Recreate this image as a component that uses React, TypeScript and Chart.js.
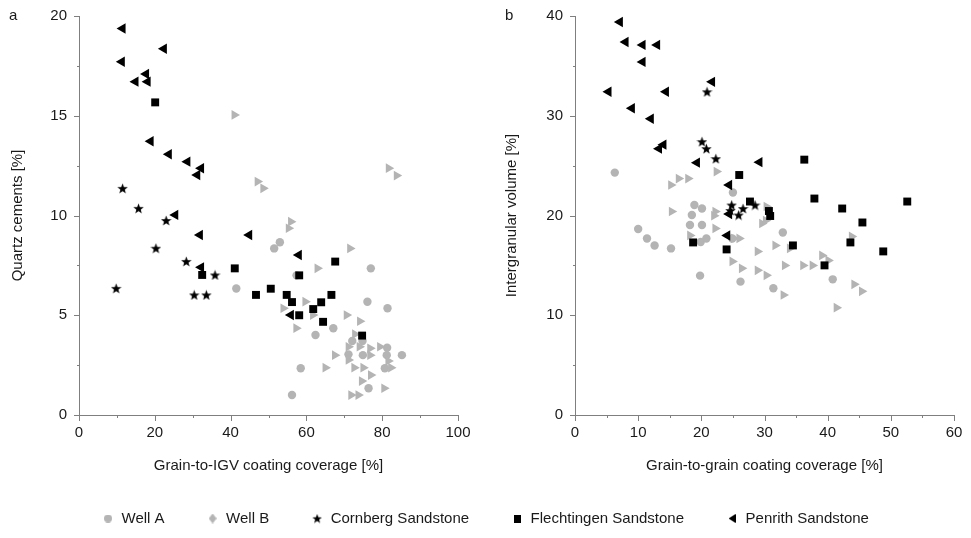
import React, { useEffect, useRef } from 'react';
import { Chart, registerables } from 'chart.js';

Chart.register(...registerables);

const FONT_FAMILY = '"Liberation Sans", Arial, sans-serif';
const FONT_SIZE = 15;
const GRAY = '#b4b4b4';
const BLACK = '#000000';
const AXIS = '#7f7f7f';
const TEXT = '#1a1a1a';

const LABELS = ['Well A', 'Well B', 'Cornberg Sandstone', 'Flechtingen Sandstone', 'Penrith Sandstone'];

// ---------- Panel a : Grain-to-IGV coating coverage [%] vs Quartz cements [%]
const aWellA: [number, number][] = [
  [41.5, 6.34], [53.0, 8.66], [51.5, 8.35], [77.0, 7.35], [57.4, 7.0], [76.1, 5.68], [81.4, 5.35],
  [67.1, 4.35], [62.4, 4.01], [72.1, 3.71], [74.8, 3.71], [81.3, 3.37], [71.1, 3.04], [74.9, 3.0],
  [81.2, 3.0], [85.2, 3.0], [80.7, 2.34], [58.5, 2.34], [76.4, 1.34], [56.2, 1.0],
];
const aWellB: [number, number][] = [
  [41.0, 15.04], [47.1, 11.7], [48.6, 11.36], [81.7, 12.37], [83.8, 12.0], [55.9, 9.69], [55.3, 9.36],
  [71.5, 8.35], [62.9, 7.35], [59.7, 5.68], [53.9, 5.35], [61.7, 5.01], [70.6, 5.01], [74.1, 4.7],
  [57.3, 4.35], [72.8, 4.05], [71.1, 3.42], [74.0, 3.42], [76.8, 3.34], [79.4, 3.42], [67.5, 3.0],
  [76.8, 3.0], [71.1, 2.76], [81.6, 2.71], [65.0, 2.37], [72.6, 2.37], [75.0, 2.37], [82.3, 2.37],
  [77.0, 2.0], [74.6, 1.7], [80.5, 1.34], [71.8, 1.0], [73.7, 1.0],
];
const aCornberg: [number, number][] = [
  [11.5, 11.36], [15.7, 10.36], [23.0, 9.75], [20.3, 8.36], [28.3, 7.7], [35.9, 7.02], [9.8, 6.35],
  [30.4, 6.02], [33.6, 6.02],
];
const aFlechtingen: [number, number][] = [
  [20.1, 15.67], [67.6, 7.69], [41.1, 7.35], [32.5, 7.02], [58.1, 7.0], [50.6, 6.33], [46.7, 6.02],
  [54.8, 6.02], [66.6, 6.02], [56.2, 5.66], [63.9, 5.65], [61.8, 5.31], [58.1, 5.0], [64.4, 4.67],
  [74.7, 3.98],
];
const aPenrith: [number, number][] = [
  [11.5, 19.37], [22.4, 18.36], [11.3, 17.71], [17.7, 17.09], [14.9, 16.71], [18.1, 16.71], [18.9, 13.72],
  [23.7, 13.07], [28.6, 12.7], [32.2, 12.37], [31.2, 12.03], [25.4, 10.03], [31.9, 9.02], [44.9, 9.02],
  [32.2, 7.4], [58.0, 8.02], [55.9, 5.01],
];

// ---------- Panel b : Grain-to-grain coating coverage [%] vs Intergranular volume [%]
const bWellA: [number, number][] = [
  [6.3, 24.3], [25.0, 22.3], [18.9, 21.05], [20.1, 20.7], [18.5, 20.05], [10.0, 18.65], [18.2, 19.05],
  [20.1, 19.05], [11.4, 17.7], [12.6, 17.0], [15.2, 16.7], [19.9, 17.35], [20.8, 17.7], [24.9, 17.7],
  [19.8, 13.97], [26.2, 13.37], [31.4, 12.7], [32.9, 18.3], [40.8, 13.6],
];
const bWellB: [number, number][] = [
  [15.2, 23.06], [16.4, 23.7], [17.9, 23.7], [22.4, 24.4], [15.3, 20.4], [22.2, 20.4], [22.0, 19.98],
  [22.2, 18.7], [18.2, 18.0], [25.1, 17.7], [26.0, 17.7], [24.9, 15.4], [26.4, 14.7], [30.3, 20.9],
  [29.6, 19.2], [30.2, 19.5], [31.7, 17.0], [34.0, 16.7], [28.9, 16.4], [39.1, 16.0], [40.1, 15.5],
  [33.2, 15.0], [36.1, 15.0], [37.6, 15.0], [28.9, 14.5], [30.3, 14.0], [33.0, 12.03], [41.4, 10.76],
  [43.8, 17.9], [44.2, 13.1], [45.4, 12.4],
];
const bCornberg: [number, number][] = [
  [20.9, 32.4], [20.1, 27.4], [20.8, 26.7], [22.3, 25.7], [24.8, 21.05], [26.6, 20.7], [28.5, 21.05],
  [25.9, 20.05], [24.6, 20.5],
];
const bFlechtingen: [number, number][] = [
  [26.0, 24.06], [36.3, 25.6], [27.7, 21.4], [37.9, 21.7], [42.3, 20.7], [52.6, 21.4], [30.7, 20.45],
  [30.9, 19.95], [45.5, 19.3], [43.6, 17.3], [48.8, 16.4], [34.5, 17.0], [24.0, 16.6], [39.5, 15.0],
  [18.7, 17.3],
];
const bPenrith: [number, number][] = [
  [7.1, 39.4], [8.0, 37.4], [10.7, 37.1], [13.0, 37.1], [10.7, 35.4], [5.3, 32.4], [14.4, 32.4],
  [21.7, 33.4], [9.0, 30.75], [12.0, 29.7], [13.3, 26.7], [14.0, 27.1], [19.3, 25.3], [29.2, 25.35],
  [24.4, 23.06], [24.4, 20.15], [24.1, 18.0],
];

// ---------- marker images
function makeCanvas(w: number, h: number) {
  const c = document.createElement('canvas');
  c.width = w;
  c.height = h;
  return c;
}
function starIcon(size: number, color: string) {
  const c = makeCanvas(size, size);
  const ctx = c.getContext('2d')!;
  const R = size / 2;
  const r = R * 0.42;
  const cx = size / 2;
  const cy = size / 2 + R * 0.09;
  ctx.beginPath();
  for (let i = 0; i < 10; i++) {
    const rad = i % 2 === 0 ? R : r;
    const a = -Math.PI / 2 + (i * Math.PI) / 5;
    ctx.lineTo(cx + rad * Math.cos(a), cy + rad * Math.sin(a));
  }
  ctx.closePath();
  ctx.fillStyle = color;
  ctx.fill();
  return c;
}
function circleIcon(d: number, color: string) {
  const c = makeCanvas(d, d);
  const ctx = c.getContext('2d')!;
  ctx.beginPath();
  ctx.arc(d / 2, d / 2, d / 2, 0, Math.PI * 2);
  ctx.fillStyle = color;
  ctx.fill();
  return c;
}
function diamondIcon(w: number, h: number, color: string) {
  const c = makeCanvas(w, h);
  const ctx = c.getContext('2d')!;
  ctx.beginPath();
  ctx.moveTo(w / 2, 0);
  ctx.lineTo(w, h / 2);
  ctx.lineTo(w / 2, h);
  ctx.lineTo(0, h / 2);
  ctx.closePath();
  ctx.fillStyle = color;
  ctx.fill();
  return c;
}
function rectIcon(w: number, h: number, color: string) {
  const c = makeCanvas(w, h);
  const ctx = c.getContext('2d')!;
  ctx.fillStyle = color;
  ctx.fillRect(0, 0, w, h);
  return c;
}
function leftTriIcon(w: number, h: number, color: string) {
  const c = makeCanvas(w, h);
  const ctx = c.getContext('2d')!;
  ctx.beginPath();
  ctx.moveTo(0, h / 2);
  ctx.lineTo(w, 0);
  ctx.lineTo(w, h);
  ctx.closePath();
  ctx.fillStyle = color;
  ctx.fill();
  return c;
}

// ---------- plugins
const tickPlugin = {
  id: 'axisTicks',
  afterDraw(chart: any, _args: any, opts: any) {
    const { ctx } = chart;
    const xs = chart.scales.x;
    const ys = chart.scales.y;
    const area = chart.chartArea;
    ctx.save();
    ctx.strokeStyle = AXIS;
    ctx.lineWidth = 1;
    const isMajor = (v: number, step: number) => Math.abs(v / step - Math.round(v / step)) < 1e-6;
    for (let v = xs.min; v <= xs.max + 1e-9; v += opts.xMinor) {
      const px = Math.round(xs.getPixelForValue(v)) + 0.5;
      const len = isMajor(v, opts.xMajor) ? 6 : 3;
      ctx.beginPath();
      ctx.moveTo(px, Math.round(area.bottom));
      ctx.lineTo(px, Math.round(area.bottom) + len);
      ctx.stroke();
    }
    for (let v = ys.min; v <= ys.max + 1e-9; v += opts.yMinor) {
      const py = Math.round(ys.getPixelForValue(v)) + 0.5;
      const len = isMajor(v, opts.yMajor) ? 6 : 3;
      ctx.beginPath();
      ctx.moveTo(Math.round(area.left) + 1, py);
      ctx.lineTo(Math.round(area.left) + 1 - len, py);
      ctx.stroke();
    }
    ctx.restore();
  },
};

const panelLabelPlugin = {
  id: 'panelLabel',
  afterDraw(chart: any, _args: any, opts: any) {
    const { ctx } = chart;
    ctx.save();
    ctx.font = `${FONT_SIZE}px ${FONT_FAMILY}`;
    ctx.fillStyle = TEXT;
    ctx.textAlign = 'left';
    ctx.textBaseline = 'middle';
    ctx.fillText(opts.text, opts.x, opts.y);
    ctx.restore();
  },
};

function toPts(arr: [number, number][]) {
  return arr.map(([x, y]) => ({ x, y }));
}

type PanelCfg = {
  series: [number, number][][];
  xMax: number;
  xMajor: number;
  xMinor: number;
  yMax: number;
  yMajor: number;
  yMinor: number;
  xTitle: string;
  yTitle: string;
  yAxisWidth: number;
  yTitlePad: number;
  padRight: number;
  label: string;
  labelX: number;
};

function buildPanel(canvas: HTMLCanvasElement, cfg: PanelCfg) {
  const star = starIcon(11, BLACK);
  const styles = [
    { pointStyle: 'circle', radius: 4.2, rotation: 0, color: GRAY },
    { pointStyle: 'triangle', radius: 5.6, rotation: 90, color: GRAY },
    { pointStyle: star, radius: 5, rotation: 0, color: BLACK },
    { pointStyle: 'rect', radius: 5.6, rotation: 0, color: BLACK },
    { pointStyle: 'triangle', radius: 6, rotation: -90, color: BLACK },
  ];
  const font = { family: FONT_FAMILY, size: FONT_SIZE };
  return new Chart(canvas, {
    type: 'scatter',
    data: {
      datasets: cfg.series.map((s, i) => ({
        label: LABELS[i],
        data: toPts(s),
        pointStyle: styles[i].pointStyle as any,
        pointRadius: styles[i].radius,
        pointRotation: styles[i].rotation,
        pointBackgroundColor: styles[i].color,
        pointBorderColor: styles[i].color,
        pointBorderWidth: 0,
        order: 5 - i,
        clip: false as any,
      })),
    },
    options: {
      responsive: false,
      animation: false,
      events: [],
      layout: { padding: { top: 8, left: 0, right: cfg.padRight, bottom: 0 } },
      plugins: {
        legend: { display: false },
        tooltip: { enabled: false },
        axisTicks: { xMajor: cfg.xMajor, xMinor: cfg.xMinor, yMajor: cfg.yMajor, yMinor: cfg.yMinor },
        panelLabel: { text: cfg.label, x: cfg.labelX, y: 8 },
      } as any,
      scales: {
        x: {
          type: 'linear',
          min: 0,
          max: cfg.xMax,
          grid: { display: false, drawTicks: false },
          border: { display: true, color: AXIS, width: 1 },
          ticks: { stepSize: cfg.xMajor, padding: 9, color: TEXT, font, maxRotation: 0, autoSkip: false },
          title: { display: true, text: cfg.xTitle, color: TEXT, font, padding: { top: 0, bottom: 1 } },
          afterFit: (s: any) => {
            s.height = 61;
            s.paddingLeft = 0;
            s.paddingRight = 0;
            s.paddingTop = 0;
            s.paddingBottom = 0;
          },
        },
        y: {
          type: 'linear',
          min: 0,
          max: cfg.yMax,
          grid: { display: false, drawTicks: false },
          border: { display: true, color: AXIS, width: 1 },
          ticks: { stepSize: cfg.yMajor, padding: 12, color: TEXT, font, autoSkip: false },
          title: { display: true, text: cfg.yTitle, color: TEXT, font, padding: { top: cfg.yTitlePad, bottom: 0 } },
          afterFit: (s: any) => {
            s.width = cfg.yAxisWidth;
            s.paddingLeft = 0;
            s.paddingRight = 0;
            s.paddingTop = 0;
            s.paddingBottom = 0;
          },
        },
      },
    },
    plugins: [tickPlugin, panelLabelPlugin],
  });
}

function buildLegend(canvas: HTMLCanvasElement) {
  const icons = [
    circleIcon(8, GRAY),
    diamondIcon(8, 10, GRAY),
    starIcon(10, BLACK),
    rectIcon(7, 8, BLACK),
    leftTriIcon(7, 9, BLACK),
  ];
  return new Chart(canvas, {
    type: 'scatter',
    data: {
      datasets: LABELS.map((l) => ({ label: l, data: [] as { x: number; y: number }[] })),
    },
    options: {
      responsive: false,
      animation: false,
      events: [],
      layout: { padding: { top: 0, left: 0, right: 0, bottom: 0 } },
      scales: { x: { display: false }, y: { display: false } },
      plugins: {
        tooltip: { enabled: false },
        legend: {
          display: true,
          position: 'top',
          maxHeight: 200,
          labels: {
            usePointStyle: true,
            boxWidth: 12,
            padding: 42,
            color: TEXT,
            font: { family: FONT_FAMILY, size: FONT_SIZE },
            generateLabels: () =>
              LABELS.map((l, i) => ({
                text: l,
                pointStyle: icons[i] as any,
                fillStyle: i < 2 ? GRAY : BLACK,
                strokeStyle: i < 2 ? GRAY : BLACK,
                lineWidth: 0,
                hidden: false,
                datasetIndex: i,
                fontColor: TEXT,
              })),
          },
        } as any,
      },
    },
  });
}

export default function App() {
  const aRef = useRef<HTMLCanvasElement>(null);
  const bRef = useRef<HTMLCanvasElement>(null);
  const lRef = useRef<HTMLCanvasElement>(null);

  useEffect(() => {
    const charts: Chart[] = [];
    if (aRef.current) {
      charts.push(
        buildPanel(aRef.current, {
          series: [aWellA, aWellB, aCornberg, aFlechtingen, aPenrith],
          xMax: 100,
          xMajor: 20,
          xMinor: 10,
          yMax: 20,
          yMajor: 5,
          yMinor: 2.5,
          xTitle: 'Grain-to-IGV coating coverage [%]',
          yTitle: 'Quartz cements [%]',
          yAxisWidth: 71,
          yTitlePad: 1,
          padRight: 30,
          label: 'a',
          labelX: 1,
        })
      );
    }
    if (bRef.current) {
      charts.push(
        buildPanel(bRef.current, {
          series: [bWellA, bWellB, bCornberg, bFlechtingen, bPenrith],
          xMax: 60,
          xMajor: 10,
          xMinor: 5,
          yMax: 40,
          yMajor: 10,
          yMinor: 5,
          xTitle: 'Grain-to-grain coating coverage [%]',
          yTitle: 'Intergranular volume [%]',
          yAxisWidth: 80,
          yTitlePad: 8,
          padRight: 9,
          label: 'b',
          labelX: 10,
        })
      );
    }
    if (lRef.current) charts.push(buildLegend(lRef.current));
    return () => charts.forEach((c) => c.destroy());
  }, []);

  return (
    <div style={{ position: 'relative', width: 955, height: 522, overflow: 'hidden' }}>
      <canvas ref={aRef} width={480} height={468} style={{ position: 'absolute', left: 0, top: 0 }} />
      <canvas ref={bRef} width={468} height={468} style={{ position: 'absolute', left: 487, top: 0 }} />
      <canvas ref={lRef} width={955} height={60} style={{ position: 'absolute', left: 0, top: 461 }} />
    </div>
  );
}
